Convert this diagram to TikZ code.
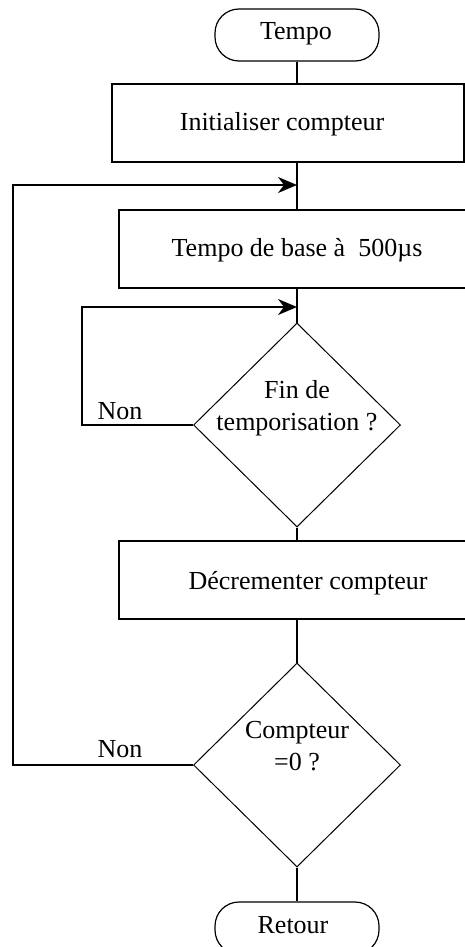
\documentclass[tikz,border=0pt]{standalone}
\usepackage{fontspec}
\setmainfont{Liberation Serif}
\usetikzlibrary{shapes.geometric,arrows.meta}
\begin{document}
\begin{tikzpicture}[x=1pt,y=-1pt,
  lbl/.style={font=\fontsize{26}{32}\selectfont, align=center, inner sep=0pt},
  proc/.style={draw, line width=1.8pt, minimum width=#1, minimum height=78pt, inner sep=0pt},
  term/.style={draw, line width=1.2pt, rounded corners=24pt, minimum width=164pt, minimum height=52pt, inner sep=0pt},
  dec/.style={draw, diamond, line width=1pt, minimum width=207pt, minimum height=204pt, inner sep=0pt},
  link/.style={line width=1.8pt},
  arr/.style={line width=1.8pt, -{Stealth[length=19pt,width=16pt,inset=6pt]}}
]
\useasboundingbox (0,0) rectangle (465,947);
\clip (0,0) rectangle (465,947);

% shapes
\node[term] (start) at (297,35) {};
\node[lbl] (startT) at (296,34) {Tempo};

\node[proc=352pt] (init) at (288,123) {};
\node[lbl] (initT) at (282,124) {Initialiser compteur};

\node[proc=358pt] (base) at (298,249) {};
\node[lbl] (baseT) at (297,250) {Tempo de base à\ \ 500µs};

\node[dec] (d1) at (297,425) {};
\node[lbl] (d1T) at (297,408) {Fin de\\temporisation ?};

\node[proc=358pt] (decr) at (298,580) {};
\node[lbl] (decrT) at (308,583) {Décrementer compteur};

\node[dec] (d2) at (297,765) {};
\node[lbl] (d2T) at (297,746) {Compteur\\=0 ?};

\node[term] (end) at (297,928) {};
\node[lbl] (endT) at (293,925) {Retour};

\node[lbl] (non1) at (120,411) {Non};
\node[lbl] (non2) at (120,749) {Non};

% junctions
\coordinate (j1) at (297,185);
\coordinate (j2) at (297,307);
\coordinate (o1) at (13,185);
\coordinate (o2) at (82,307);

% main flow
\draw[link] (start.south) -- (start.south |- init.north);
\draw[link] (start.south |- init.south) -- (start.south |- base.north);
\draw[link] (start.south |- base.south) -- (d1.north);
\draw[link] (d1.south) -- (d1.south |- decr.north);
\draw[link] (d1.south |- decr.south) -- (d2.north);
\draw[link] (d2.south) -- (end.north);

% loops
\draw[arr] (d1.west) -| (o2) -- (j2);
\draw[arr] (d2.west) -| (o1) -- (j1);
\end{tikzpicture}
\end{document}
